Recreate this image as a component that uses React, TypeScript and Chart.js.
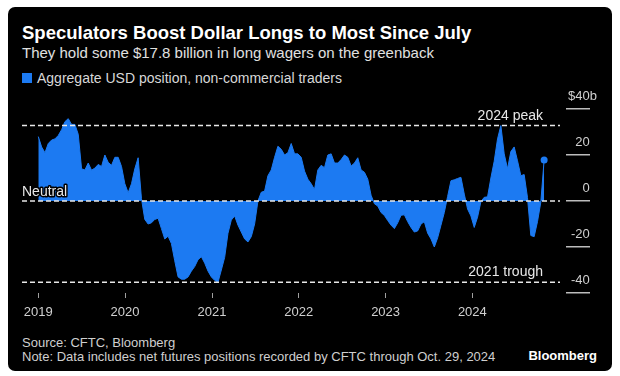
import React, { useEffect, useRef } from 'react';
import { Chart, registerables } from 'chart.js';

Chart.register(...registerables);

// Bi-weekly readings (every 14 days from 2019-01-01), $ billions
const STEP_DAYS = 14;
const pos2019 = [28, 23.5, 21, 25, 26.5, 27, 28.5, 31, 34.5, 35.8, 33.3, 33.3, 29, 14, 13.5, 16.5, 13.4, 14.3, 15.9, 15, 20, 16.8, 15.5, 19, 19, 15];
const pos2020 = [7.5, 3.6, 7.5, 14, 18.8, 1, -8, -10, -9.5, -8, -7.5, -12, -16.5, -15.3, -18.5, -26, -33, -34, -34, -33, -30.5, -28.5, -25.5, -24.2, -27, -30.5];
const pos2021 = [-33, -34.5, -35.3, -30, -24.5, -14, -8.3, -6.5, -10.5, -13.5, -16.5, -17.8, -15.5, -10, 0, 3.8, 4.3, 11, 13.5, 19, 23.8, 22.5, 20, 21, 25, 20.5];
const pos2022 = [20.5, 19, 13, 9.5, 7.5, 5, 13.5, 15.5, 14.5, 20, 20.5, 16.5, 16.5, 18, 20, 19, 15.2, 16.5, 18.8, 13.5, 12.5, 9.5, 2.5, -1.2, -2.2, -5];
const pos2023 = [-6.3, -8.5, -10.5, -12, -9.5, -6.2, -6, -9, -11.5, -13.5, -13, -10, -9, -14, -16.5, -20, -16, -10.5, -5, 2, 8.8, 9.2, 9.8, 10.3, 3, -3.5];
const pos2024 = [-6.5, -11.5, -7, -0.3, 1.6, 1.8, 10, 17.3, 27, 32.8, 20.5, 14, 21.5, 23.5, 17.5, 11, 11.5, 1.5, -15, -15.5, -9, -0.5, 17.8];

const yearLabels = ['2019', '2020', '2021', '2022', '2023', '2024'];
const yearStartDays = [0, 365, 731, 1096, 1461, 1826];
const yTickValues = [-40, -20, 0, 20, 40];
const refValues = [32.8, 0, -35.3];
const refLabels = ['2024 peak', 'Neutral', '2021 trough'];

const BLUE = '#1c7af2';
const FONT = '"Liberation Sans", Arial, sans-serif';

const allValues = [...pos2019, ...pos2020, ...pos2021, ...pos2022, ...pos2023, ...pos2024];

const refPlugin = {
  id: 'refLines',
  afterDatasetsDraw(chart: any) {
    const { ctx, chartArea, scales } = chart;
    const y = scales.y;
    ctx.save();
    ctx.strokeStyle = '#e8e8e8';
    ctx.lineWidth = 1.5;
    ctx.setLineDash([5, 3]);
    refValues.forEach((v) => {
      const py = y.getPixelForValue(v);
      ctx.beginPath();
      ctx.moveTo(chartArea.left, py);
      ctx.lineTo(chartArea.right - 6, py);
      ctx.stroke();
    });
    ctx.setLineDash([]);
    ctx.font = '14px ' + FONT;
    ctx.textBaseline = 'alphabetic';
    ctx.fillStyle = '#e8e8e8';
    ctx.textAlign = 'right';
    ctx.fillText(refLabels[0], chartArea.right - 23, y.getPixelForValue(refValues[0]) - 6);
    ctx.fillText(refLabels[2], chartArea.right - 23, y.getPixelForValue(refValues[2]) - 6);
    ctx.textAlign = 'left';
    const ny = y.getPixelForValue(refValues[1]) - 5;
    ctx.strokeStyle = '#000';
    ctx.lineWidth = 3;
    ctx.lineJoin = 'round';
    ctx.strokeText(refLabels[1], chartArea.left, ny);
    ctx.fillText(refLabels[1], chartArea.left, ny);
    ctx.restore();
  },
};

function ChartCanvas() {
  const ref = useRef<HTMLCanvasElement>(null);
  useEffect(() => {
    if (!ref.current) return;
    const data = allValues.map((v, i) => ({ x: i * STEP_DAYS, y: v }));
    const last = allValues.length - 1;
    const chart = new Chart(ref.current, {
      type: 'line',
      data: {
        datasets: [
          {
            data,
            fill: 'origin',
            backgroundColor: BLUE,
            borderColor: BLUE,
            borderWidth: 1,
            tension: 0,
            pointRadius: (c: any) => (c.dataIndex === last ? 3.5 : 0),
            pointBackgroundColor: BLUE,
            pointBorderWidth: 0,
          },
        ],
      },
      options: {
        responsive: false,
        animation: false,
        events: [],
        layout: { padding: { left: 14, top: 23, right: 15, bottom: 0 } },
        plugins: { legend: { display: false }, tooltip: { enabled: false } },
        scales: {
          x: {
            type: 'linear',
            min: -68.6,
            max: 2220,
            afterBuildTicks: (s: any) => {
              s.ticks = yearStartDays.map((v) => ({ value: v }));
            },
            afterFit: (s: any) => {
              s.height = 37;
            },
            grid: { drawOnChartArea: false, drawTicks: true, tickLength: 5, color: '#a0a0a0', lineWidth: 1 },
            border: { display: false },
            ticks: {
              autoSkip: false,
              maxRotation: 0,
              padding: 7,
              color: '#d0d0d0',
              font: { size: 13, family: FONT },
              callback: (_v: any, i: number) => yearLabels[i],
            },
          },
          y: {
            position: 'right',
            min: -40,
            max: 40,
            afterBuildTicks: (s: any) => {
              s.ticks = yTickValues.map((v) => ({ value: v }));
            },
            afterFit: (s: any) => {
              s.width = 31;
            },
            grid: { drawOnChartArea: false, drawTicks: true, tickLength: 24, color: '#bdbdbd', lineWidth: 1.5 },
            border: { display: false },
            ticks: {
              crossAlign: 'far',
              padding: 0,
              labelOffset: -13,
              color: '#d0d0d0',
              font: { size: 13, family: FONT },
              callback: (v: any) => (v === 40 ? '$40b' : `${v}  `),
            },
          },
        },
      } as any,
      plugins: [refPlugin],
    });
    return () => chart.destroy();
  }, []);
  return <canvas ref={ref} width={604} height={244} style={{ display: 'block', position: 'absolute', left: 0, top: 79 }} />;
}

export default function App() {
  useEffect(() => {
    document.body.style.margin = '0';
    document.body.style.background = '#fff';
  }, []);
  const base: React.CSSProperties = { position: 'absolute', fontFamily: FONT, whiteSpace: 'nowrap', lineHeight: 1 };
  return (
    <div
      style={{
        position: 'absolute',
        left: 8,
        top: 7,
        width: 604,
        height: 364,
        background: '#000',
        borderRadius: 7,
        overflow: 'hidden',
      }}
    >
      <div style={{ ...base, left: 14, top: 16.5, fontSize: 18.5, fontWeight: 700, color: '#fff' }}>
        Speculators Boost Dollar Longs to Most Since July
      </div>
      <div style={{ ...base, left: 14, top: 37.5, fontSize: 15, color: '#e0e0e0' }}>
        They hold some $17.8 billion in long wagers on the greenback
      </div>
      <div style={{ position: 'absolute', left: 14, top: 66, width: 10, height: 10, background: BLUE }} />
      <div style={{ ...base, left: 29, top: 64, fontSize: 14, color: '#d8d8d8' }}>
        Aggregate USD position, non-commercial traders
      </div>
      <ChartCanvas />
      <div style={{ ...base, left: 14, top: 328.5, fontSize: 13, color: '#cfcfcf' }}>Source: CFTC, Bloomberg</div>
      <div style={{ ...base, left: 14, top: 342.5, fontSize: 13, color: '#cfcfcf' }}>
        Note: Data includes net futures positions recorded by CFTC through Oct. 29, 2024
      </div>
      <div style={{ ...base, right: 15, top: 341.5, fontSize: 13, fontWeight: 700, color: '#fff' }}>Bloomberg</div>
    </div>
  );
}
